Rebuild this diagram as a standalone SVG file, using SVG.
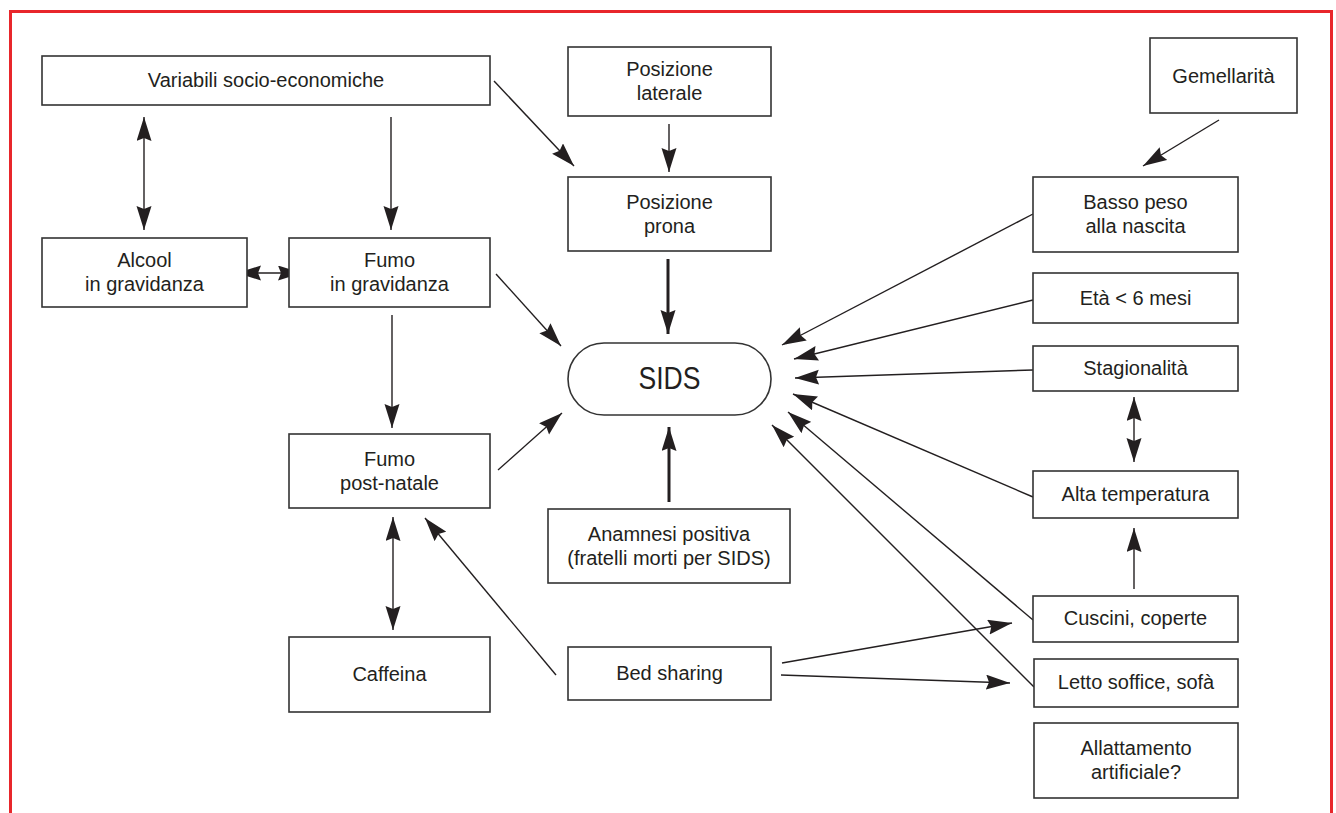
<svg xmlns="http://www.w3.org/2000/svg" width="1336" height="813" viewBox="0 0 1336 813">
<style>
.box{fill:#fff;stroke:#333;stroke-width:1.6}
.t{font-family:"Liberation Sans",Arial,sans-serif;font-size:20px;fill:#231f20;text-anchor:middle}
.c{fill:none;stroke:#231f20;stroke-width:1.4}
.k{fill:none;stroke:#231f20;stroke-width:3}
.a{marker-end:url(#ah)}
.d{marker-start:url(#ah);marker-end:url(#ah)}
</style>
<defs>
<marker id="ah" markerUnits="userSpaceOnUse" markerWidth="25" markerHeight="16" refX="24" refY="7.5" orient="auto-start-reverse" viewBox="0 0 25 16">
<path d="M0,0 L24,7.5 L0,15 L3,7.5 z" fill="#231f20"/>
</marker>
</defs>
<rect width="1336" height="813" fill="#fff"/>
<path d="M10.5,830 V11.5 H1331.5 V830" fill="none" stroke="#e8262b" stroke-width="3"/>

<g id="connectors">
<line class="c d" x1="144" y1="117" x2="144" y2="230"/>
<line class="c a" x1="391" y1="117" x2="391" y2="230"/>
<line class="c d" x1="237" y1="273" x2="302" y2="273"/>
<line class="c a" x1="392" y1="315" x2="392" y2="428"/>
<line class="c d" x1="393" y1="517" x2="393" y2="630"/>
<line class="c a" x1="494" y1="81" x2="574" y2="166"/>
<line class="c a" x1="669" y1="124" x2="669" y2="172"/>
<line class="k a" x1="668" y1="259" x2="668" y2="334"/>
<line class="c a" x1="496" y1="274" x2="561" y2="346"/>
<line class="c a" x1="498" y1="470" x2="562" y2="413"/>
<line class="k a" x1="669" y1="502" x2="669" y2="427"/>
<line class="c a" x1="556" y1="675" x2="425" y2="518"/>
<line class="c a" x1="782" y1="663" x2="1012" y2="623"/>
<line class="c a" x1="781" y1="675" x2="1010" y2="683"/>
<line class="c a" x1="1134" y1="589" x2="1134" y2="528"/>
<line class="c d" x1="1134" y1="397" x2="1134" y2="462"/>
<line class="c a" x1="1219" y1="120" x2="1143" y2="166"/>
<line class="c a" x1="1033" y1="214" x2="782" y2="345"/>
<line class="c a" x1="1033" y1="300" x2="794" y2="359"/>
<line class="c a" x1="1033" y1="370" x2="795" y2="378"/>
<line class="c a" x1="1033" y1="497" x2="793" y2="394"/>
<line class="c a" x1="1033" y1="620" x2="788" y2="412"/>
<line class="c a" x1="1034" y1="687" x2="772" y2="425"/>
</g>

<g id="variabili"><rect class="box" x="42" y="56" width="448" height="49"/><text class="t" x="266" y="87">Variabili socio-economiche</text></g>
<g id="alcool"><rect class="box" x="42" y="238" width="205" height="69"/><text class="t" x="144.5" y="267">Alcool</text><text class="t" x="144.5" y="291">in gravidanza</text></g>
<g id="fumo-grav"><rect class="box" x="289" y="238" width="201" height="69"/><text class="t" x="389.5" y="267">Fumo</text><text class="t" x="389.5" y="291">in gravidanza</text></g>
<g id="pos-lat"><rect class="box" x="568" y="47" width="203" height="69"/><text class="t" x="669.5" y="76">Posizione</text><text class="t" x="669.5" y="100">laterale</text></g>
<g id="pos-prona"><rect class="box" x="568" y="177" width="203" height="74"/><text class="t" x="669.5" y="209">Posizione</text><text class="t" x="669.5" y="233">prona</text></g>
<g id="gemellarita"><rect class="box" x="1150" y="38" width="147" height="75"/><text class="t" x="1223.5" y="83">Gemellarità</text></g>
<g id="basso-peso"><rect class="box" x="1033" y="177" width="205" height="75"/><text class="t" x="1135.5" y="209">Basso peso</text><text class="t" x="1135.5" y="233">alla nascita</text></g>
<g id="eta"><rect class="box" x="1033" y="273" width="205" height="50"/><text class="t" x="1135.5" y="305">Età &lt; 6 mesi</text></g>
<g id="stagionalita"><rect class="box" x="1033" y="346" width="205" height="45"/><text class="t" x="1135.5" y="375">Stagionalità</text></g>
<g id="alta-temp"><rect class="box" x="1033" y="471" width="205" height="47"/><text class="t" x="1135.5" y="501">Alta temperatura</text></g>
<g id="cuscini"><rect class="box" x="1033" y="596" width="205" height="46"/><text class="t" x="1135.5" y="625">Cuscini, coperte</text></g>
<g id="letto"><rect class="box" x="1034" y="659" width="204" height="48"/><text class="t" x="1136" y="689">Letto soffice, sofà</text></g>
<g id="allattamento"><rect class="box" x="1034" y="723" width="204" height="75"/><text class="t" x="1136" y="755">Allattamento</text><text class="t" x="1136" y="779">artificiale?</text></g>
<g id="sids"><rect class="box" x="568" y="343" width="203" height="72" rx="36" ry="36"/><text class="t" x="669.5" y="389" style="font-size:31px" textLength="62" lengthAdjust="spacingAndGlyphs">SIDS</text></g>
<g id="anamnesi"><rect class="box" x="548" y="509" width="242" height="74"/><text class="t" x="669" y="541">Anamnesi positiva</text><text class="t" x="669" y="565">(fratelli morti per SIDS)</text></g>
<g id="bed-sharing"><rect class="box" x="568" y="647" width="203" height="53"/><text class="t" x="669.5" y="680">Bed sharing</text></g>
<g id="fumo-post"><rect class="box" x="289" y="434" width="201" height="74"/><text class="t" x="389.5" y="466">Fumo</text><text class="t" x="389.5" y="490">post-natale</text></g>
<g id="caffeina"><rect class="box" x="289" y="637" width="201" height="75"/><text class="t" x="389.5" y="681">Caffeina</text></g>
</svg>
